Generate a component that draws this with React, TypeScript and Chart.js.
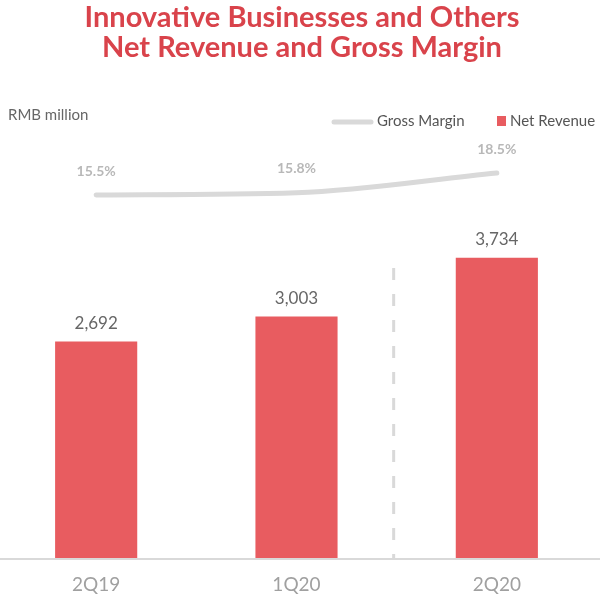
import React, { useEffect, useRef } from "react";
import { Chart, registerables } from "chart.js";

Chart.register(...registerables);

const categories = ["2Q19", "1Q20", "2Q20"];
const netRevenue = [2692, 3003, 3734];
const grossMargin = [15.5, 15.8, 18.5];
const titleLines = ["Innovative Businesses and Others", "Net Revenue and Gross Margin"];
const unitLabel = "RMB million";
const legendLabels = ["Gross Margin", "Net Revenue"];

const OFF = 4; // canvas shifted left by 4px
const FONT = "Lato, 'Open Sans', sans-serif";
const RED = "#e85c60";
const LINE_GRAY = "#d9d9d9";

const overlay = {
  id: "overlay",
  afterDatasetsDraw(chart: any) {
    const ctx = chart.ctx;
    const xs = chart.scales.x;
    const area = chart.chartArea;
    ctx.save();
    // dashed separator
    const sx = xs.getPixelForValue(1.5) - 3;
    ctx.strokeStyle = LINE_GRAY;
    ctx.lineWidth = 3;
    ctx.setLineDash([12, 14]);
    ctx.beginPath();
    ctx.moveTo(sx, 268);
    ctx.lineTo(sx, area.bottom);
    ctx.stroke();
    ctx.setLineDash([]);
    // axis line
    ctx.strokeStyle = LINE_GRAY;
    ctx.lineWidth = 2;
    ctx.beginPath();
    ctx.moveTo(0, area.bottom + 1);
    ctx.lineTo(chart.width, area.bottom + 1);
    ctx.stroke();

    // bar labels
    const barMeta = chart.getDatasetMeta(1);
    ctx.textAlign = "center";
    ctx.textBaseline = "middle";
    ctx.font = `17px ${FONT}`;
    ctx.fillStyle = "#666666";
    barMeta.data.forEach((el: any, i: number) => {
      ctx.fillText(netRevenue[i].toLocaleString("en-US"), el.x, el.y - 18);
    });
    // line labels
    const lineMeta = chart.getDatasetMeta(0);
    ctx.font = `bold 14px ${FONT}`;
    ctx.fillStyle = "#b8b8b8";
    lineMeta.data.forEach((el: any, i: number) => {
      ctx.fillText(grossMargin[i].toFixed(1) + "%", el.x, el.y - 24);
    });

    // title
    ctx.font = `bold 29px ${FONT}`;
    ctx.fillStyle = "#d9434b";
    ctx.fillText(titleLines[0], 302 + OFF, 18);
    ctx.fillText(titleLines[1], 302 + OFF, 48);

    // unit
    ctx.textAlign = "left";
    ctx.font = `15px ${FONT}`;
    ctx.fillStyle = "#666666";
    ctx.fillText(unitLabel, 8 + OFF, 115);

    // legend
    ctx.strokeStyle = LINE_GRAY;
    ctx.lineWidth = 5;
    ctx.lineCap = "round";
    ctx.beginPath();
    ctx.moveTo(334 + OFF, 122);
    ctx.lineTo(371 + OFF, 122);
    ctx.stroke();
    ctx.fillStyle = "#555555";
    ctx.fillText(legendLabels[0], 377 + OFF, 121);
    ctx.fillStyle = RED;
    ctx.fillRect(497 + OFF, 116, 9, 10);
    ctx.fillStyle = "#555555";
    ctx.fillText(legendLabels[1], 510 + OFF, 121);
    ctx.restore();
  },
};

export default function App() {
  const ref = useRef<HTMLCanvasElement>(null);
  useEffect(() => {
    if (!ref.current) return;
    const chart = new Chart(ref.current, {
      type: "bar",
      data: {
        labels: categories,
        datasets: [
          {
            type: "line",
            label: legendLabels[0],
            data: grossMargin,
            yAxisID: "y1",
            borderColor: LINE_GRAY,
            borderWidth: 5,
            pointRadius: 0,
            cubicInterpolationMode: "monotone",
            borderCapStyle: "round",
            order: 0,
          } as any,
          {
            type: "bar",
            label: legendLabels[1],
            data: netRevenue,
            yAxisID: "y",
            backgroundColor: RED,
            categoryPercentage: 1,
            barPercentage: 0.41,
            order: 1,
          },
        ],
      },
      options: {
        responsive: false,
        animation: false,
        layout: { padding: { top: 140, left: 0, right: 3, bottom: 0 } },
        plugins: { legend: { display: false }, title: { display: false }, tooltip: { enabled: false } },
        scales: {
          x: {
            grid: { display: false },
            border: { display: false },
            ticks: { color: "#a0a0a0", font: { family: FONT, size: 19 }, padding: 7 },
            afterFit: (s: any) => {
              s.height = 45;
            },
          },
          y: { display: false, min: 0, max: 5200 },
          y1: { display: false, min: -34, max: 23 },
        },
      },
      plugins: [overlay],
    });
    return () => chart.destroy();
  }, []);
  return (
    <div style={{ position: "fixed", left: 0, top: 0, width: 600, height: 603, overflow: "hidden", background: "#fff" }}>
      <canvas ref={ref} width={604} height={603} style={{ position: "absolute", left: -OFF, top: 0 }} />
    </div>
  );
}
